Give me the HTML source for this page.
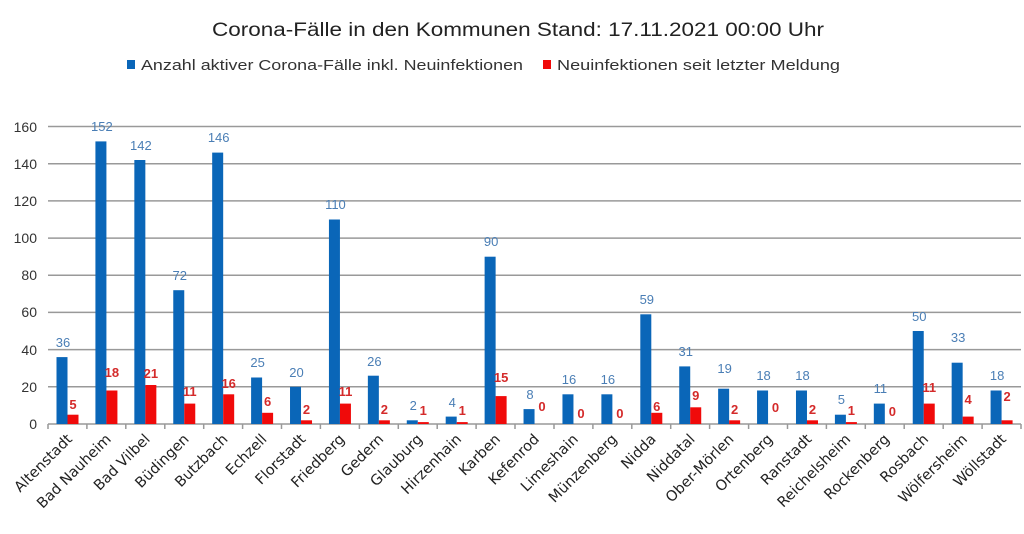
<!DOCTYPE html>
<html><head><meta charset="utf-8"><style>
html,body{margin:0;padding:0;background:#fff;}
svg{display:block;font-family:"Liberation Sans",sans-serif;}
.b{fill:#0a66b8}.r{fill:#f00a0a}
.bl{fill:#4a7eb5;font-size:13px;text-anchor:middle}
.rl{fill:#d42a2a;font-size:13px;font-weight:bold;text-anchor:middle}
.yl{fill:#333;font-size:14px;text-anchor:end}
.cl{fill:#222;font-size:14.5px;text-anchor:end;font-family:"DejaVu Sans",sans-serif}
</style></head><body>
<svg width="1024" height="534" viewBox="0 0 1024 534">
<text x="212" y="36" font-size="19" fill="#222" textLength="612" lengthAdjust="spacingAndGlyphs">Corona-Fälle in den Kommunen Stand: 17.11.2021 00:00 Uhr</text>
<rect x="127" y="60" width="8" height="9" class="b"/>
<text x="141" y="70" font-size="15" fill="#333" textLength="382" lengthAdjust="spacingAndGlyphs">Anzahl aktiver Corona-Fälle inkl. Neuinfektionen</text>
<rect x="543" y="60" width="8" height="9" class="r"/>
<text x="557" y="70" font-size="15" fill="#333" textLength="283" lengthAdjust="spacingAndGlyphs">Neuinfektionen seit letzter Meldung</text>
<g stroke="#999" stroke-width="1.5">
<line x1="48" x2="1021" y1="386.8" y2="386.8"/><line x1="48" x2="1021" y1="349.6" y2="349.6"/>
<line x1="48" x2="1021" y1="312.4" y2="312.4"/><line x1="48" x2="1021" y1="275.2" y2="275.2"/>
<line x1="48" x2="1021" y1="238.1" y2="238.1"/><line x1="48" x2="1021" y1="200.9" y2="200.9"/>
<line x1="48" x2="1021" y1="163.7" y2="163.7"/><line x1="48" x2="1021" y1="126.5" y2="126.5"/>
<line x1="48" x2="1021" y1="424" y2="424"/>
</g>
<g class="yl">
<text x="37" y="429">0</text><text x="37" y="392">20</text><text x="37" y="355">40</text><text x="37" y="317">60</text>
<text x="37" y="280">80</text><text x="37" y="243">100</text><text x="37" y="206">120</text><text x="37" y="169">140</text><text x="37" y="132">160</text>
</g>
<g stroke="#999" stroke-width="1.5">
<line x1="48" x2="48" y1="424" y2="429"/><line x1="86.9" x2="86.9" y1="424" y2="429"/><line x1="125.8" x2="125.8" y1="424" y2="429"/><line x1="164.8" x2="164.8" y1="424" y2="429"/><line x1="203.7" x2="203.7" y1="424" y2="429"/><line x1="242.6" x2="242.6" y1="424" y2="429"/><line x1="281.5" x2="281.5" y1="424" y2="429"/><line x1="320.4" x2="320.4" y1="424" y2="429"/><line x1="359.4" x2="359.4" y1="424" y2="429"/><line x1="398.3" x2="398.3" y1="424" y2="429"/><line x1="437.2" x2="437.2" y1="424" y2="429"/><line x1="476.1" x2="476.1" y1="424" y2="429"/><line x1="515" x2="515" y1="424" y2="429"/><line x1="554" x2="554" y1="424" y2="429"/><line x1="592.9" x2="592.9" y1="424" y2="429"/><line x1="631.8" x2="631.8" y1="424" y2="429"/><line x1="670.7" x2="670.7" y1="424" y2="429"/><line x1="709.6" x2="709.6" y1="424" y2="429"/><line x1="748.6" x2="748.6" y1="424" y2="429"/><line x1="787.5" x2="787.5" y1="424" y2="429"/><line x1="826.4" x2="826.4" y1="424" y2="429"/><line x1="865.3" x2="865.3" y1="424" y2="429"/><line x1="904.2" x2="904.2" y1="424" y2="429"/><line x1="943.2" x2="943.2" y1="424" y2="429"/><line x1="982.1" x2="982.1" y1="424" y2="429"/><line x1="1021" x2="1021" y1="424" y2="429"/>
</g>

<g transform="translate(48,0)"><rect class="b" x="8.5" y="357.1" width="11" height="66.9"/><rect class="r" x="19.5" y="414.7" width="11" height="9.3"/><text class="bl" x="15" y="347">36</text><text class="rl" x="25" y="409">5</text><text class="cl" transform="translate(25,440) rotate(-45)">Altenstadt</text></g>
<g transform="translate(86.92,0)"><rect class="b" x="8.5" y="141.4" width="11" height="282.6"/><rect class="r" x="19.5" y="390.5" width="11" height="33.5"/><text class="bl" x="15" y="131">152</text><text class="rl" x="25" y="377">18</text><text class="cl" transform="translate(25,440) rotate(-45)">Bad Nauheim</text></g>
<g transform="translate(125.84,0)"><rect class="b" x="8.5" y="160" width="11" height="264"/><rect class="r" x="19.5" y="385" width="11" height="39"/><text class="bl" x="15" y="150">142</text><text class="rl" x="25" y="378">21</text><text class="cl" transform="translate(25,440) rotate(-45)">Bad Vilbel</text></g>
<g transform="translate(164.76,0)"><rect class="b" x="8.5" y="290.2" width="11" height="133.8"/><rect class="r" x="19.5" y="403.6" width="11" height="20.4"/><text class="bl" x="15" y="280">72</text><text class="rl" x="25" y="396">11</text><text class="cl" transform="translate(25,440) rotate(-45)">Büdingen</text></g>
<g transform="translate(203.68,0)"><rect class="b" x="8.5" y="152.6" width="11" height="271.4"/><rect class="r" x="19.5" y="394.3" width="11" height="29.7"/><text class="bl" x="15" y="142">146</text><text class="rl" x="25" y="388">16</text><text class="cl" transform="translate(25,440) rotate(-45)">Butzbach</text></g>
<g transform="translate(242.6,0)"><rect class="b" x="8.5" y="377.5" width="11" height="46.5"/><rect class="r" x="19.5" y="412.8" width="11" height="11.2"/><text class="bl" x="15" y="367">25</text><text class="rl" x="25" y="406">6</text><text class="cl" transform="translate(25,440) rotate(-45)">Echzell</text></g>
<g transform="translate(281.52,0)"><rect class="b" x="8.5" y="386.8" width="11" height="37.2"/><rect class="r" x="19.5" y="420.3" width="11" height="3.7"/><text class="bl" x="15" y="377">20</text><text class="rl" x="25" y="414">2</text><text class="cl" transform="translate(25,440) rotate(-45)">Florstadt</text></g>
<g transform="translate(320.44,0)"><rect class="b" x="8.5" y="219.5" width="11" height="204.5"/><rect class="r" x="19.5" y="403.6" width="11" height="20.4"/><text class="bl" x="15" y="209">110</text><text class="rl" x="25" y="396">11</text><text class="cl" transform="translate(25,440) rotate(-45)">Friedberg</text></g>
<g transform="translate(359.36,0)"><rect class="b" x="8.5" y="375.7" width="11" height="48.3"/><rect class="r" x="19.5" y="420.3" width="11" height="3.7"/><text class="bl" x="15" y="366">26</text><text class="rl" x="25" y="414">2</text><text class="cl" transform="translate(25,440) rotate(-45)">Gedern</text></g>
<g transform="translate(398.28,0)"><rect class="b" x="8.5" y="420.3" width="11" height="3.7"/><rect class="r" x="19.5" y="422.1" width="11" height="1.9"/><text class="bl" x="15" y="410">2</text><text class="rl" x="25" y="415">1</text><text class="cl" transform="translate(25,440) rotate(-45)">Glauburg</text></g>
<g transform="translate(437.2,0)"><rect class="b" x="8.5" y="416.6" width="11" height="7.4"/><rect class="r" x="19.5" y="422.1" width="11" height="1.9"/><text class="bl" x="15" y="407">4</text><text class="rl" x="25" y="415">1</text><text class="cl" transform="translate(25,440) rotate(-45)">Hirzenhain</text></g>
<g transform="translate(476.12,0)"><rect class="b" x="8.5" y="256.7" width="11" height="167.3"/><rect class="r" x="19.5" y="396.1" width="11" height="27.9"/><text class="bl" x="15" y="246">90</text><text class="rl" x="25" y="382">15</text><text class="cl" transform="translate(25,440) rotate(-45)">Karben</text></g>
<g transform="translate(515.04,0)"><rect class="b" x="8.5" y="409.1" width="11" height="14.9"/><text class="bl" x="15" y="399">8</text><text class="rl" x="27" y="411">0</text><text class="cl" transform="translate(25,440) rotate(-45)">Kefenrod</text></g>
<g transform="translate(553.96,0)"><rect class="b" x="8.5" y="394.3" width="11" height="29.7"/><text class="bl" x="15" y="384">16</text><text class="rl" x="27" y="418">0</text><text class="cl" transform="translate(25,440) rotate(-45)">Limeshain</text></g>
<g transform="translate(592.88,0)"><rect class="b" x="8.5" y="394.3" width="11" height="29.7"/><text class="bl" x="15" y="384">16</text><text class="rl" x="27" y="418">0</text><text class="cl" transform="translate(25,440) rotate(-45)">Münzenberg</text></g>
<g transform="translate(631.8,0)"><rect class="b" x="8.5" y="314.3" width="11" height="109.7"/><rect class="r" x="19.5" y="412.8" width="11" height="11.2"/><text class="bl" x="15" y="304">59</text><text class="rl" x="25" y="411">6</text><text class="cl" transform="translate(25,440) rotate(-45)">Nidda</text></g>
<g transform="translate(670.72,0)"><rect class="b" x="8.5" y="366.4" width="11" height="57.6"/><rect class="r" x="19.5" y="407.3" width="11" height="16.7"/><text class="bl" x="15" y="356">31</text><text class="rl" x="25" y="400">9</text><text class="cl" transform="translate(25,440) rotate(-45)">Niddatal</text></g>
<g transform="translate(709.64,0)"><rect class="b" x="8.5" y="388.7" width="11" height="35.3"/><rect class="r" x="19.5" y="420.3" width="11" height="3.7"/><text class="bl" x="15" y="373">19</text><text class="rl" x="25" y="414">2</text><text class="cl" transform="translate(25,440) rotate(-45)">Ober-Mörlen</text></g>
<g transform="translate(748.56,0)"><rect class="b" x="8.5" y="390.5" width="11" height="33.5"/><text class="bl" x="15" y="380">18</text><text class="rl" x="27" y="412">0</text><text class="cl" transform="translate(25,440) rotate(-45)">Ortenberg</text></g>
<g transform="translate(787.48,0)"><rect class="b" x="8.5" y="390.5" width="11" height="33.5"/><rect class="r" x="19.5" y="420.3" width="11" height="3.7"/><text class="bl" x="15" y="380">18</text><text class="rl" x="25" y="414">2</text><text class="cl" transform="translate(25,440) rotate(-45)">Ranstadt</text></g>
<g transform="translate(826.4,0)"><rect class="b" x="8.5" y="414.7" width="11" height="9.3"/><rect class="r" x="19.5" y="422.1" width="11" height="1.9"/><text class="bl" x="15" y="404">5</text><text class="rl" x="25" y="415">1</text><text class="cl" transform="translate(25,440) rotate(-45)">Reichelsheim</text></g>
<g transform="translate(865.32,0)"><rect class="b" x="8.5" y="403.6" width="11" height="20.4"/><text class="bl" x="15" y="393">11</text><text class="rl" x="27" y="416">0</text><text class="cl" transform="translate(25,440) rotate(-45)">Rockenberg</text></g>
<g transform="translate(904.24,0)"><rect class="b" x="8.5" y="331" width="11" height="93"/><rect class="r" x="19.5" y="403.6" width="11" height="20.4"/><text class="bl" x="15" y="321">50</text><text class="rl" x="25" y="392">11</text><text class="cl" transform="translate(25,440) rotate(-45)">Rosbach</text></g>
<g transform="translate(943.16,0)"><rect class="b" x="8.5" y="362.7" width="11" height="61.3"/><rect class="r" x="19.5" y="416.6" width="11" height="7.4"/><text class="bl" x="15" y="342">33</text><text class="rl" x="25" y="404">4</text><text class="cl" transform="translate(25,440) rotate(-45)">Wölfersheim</text></g>
<g transform="translate(982.08,0)"><rect class="b" x="8.5" y="390.5" width="11" height="33.5"/><rect class="r" x="19.5" y="420.3" width="11" height="3.7"/><text class="bl" x="15" y="380">18</text><text class="rl" x="25" y="401">2</text><text class="cl" transform="translate(25,440) rotate(-45)">Wöllstadt</text></g>
</svg>
</body></html>
